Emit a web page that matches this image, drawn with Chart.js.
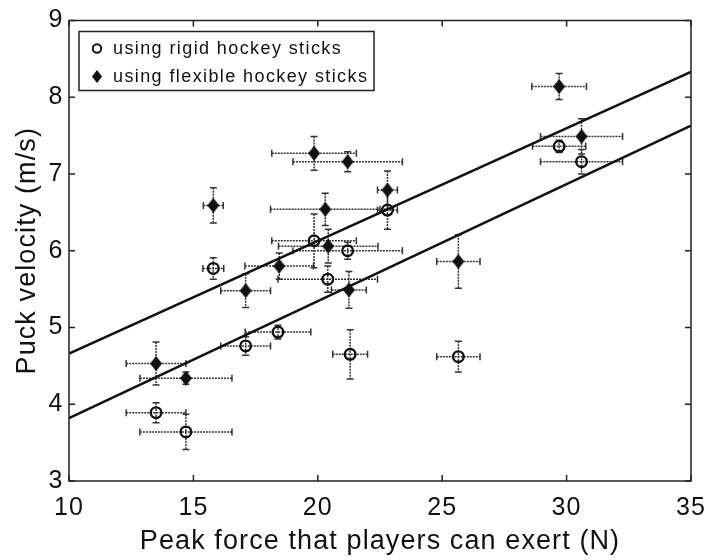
<!DOCTYPE html>
<html>
<head>
<meta charset="utf-8">
<script src="https://cdn.jsdelivr.net/npm/chart.js@4/dist/chart.umd.min.js"></script>
<style>
  html, body { margin: 0; padding: 0; background: #fff; }
</style>
</head>
<body>
<canvas id="chart" width="710" height="560"></canvas>
<script>
// values
const rigidForce    = [13.5, 14.7, 15.8, 17.1, 18.4, 19.85, 20.4, 21.2, 21.3, 22.8, 25.65, 29.7, 30.6];
const rigidVelocity = [3.89, 3.64, 5.77, 4.76, 4.94, 6.13, 5.63, 6.0, 4.65, 6.53, 4.62, 7.36, 7.16];
const rigidForceErr = [1.2, 1.85, 0.42, 1.0, 1.32, 1.7, 2.0, 2.2, 0.7, 0.4, 0.87, 1.07, 1.65];
const rigidVelErr   = [0.13, 0.23, 0.14, 0.12, 0.09, 0.35, 0.17, 0.11, 0.32, 0.25, 0.2, 0.08, 0.16];

const flexForce    = [13.5, 14.7, 15.8, 17.1, 18.45, 19.85, 20.3, 20.42, 21.2, 21.25, 22.8, 25.65, 29.7, 30.6];
const flexVelocity = [4.53, 4.34, 6.59, 5.48, 5.8, 7.27, 6.54, 6.06, 7.16, 5.49, 6.79, 5.86, 8.14, 7.49];
const flexForceErr = [1.2, 1.85, 0.4, 1.0, 1.38, 1.7, 2.2, 2.0, 2.2, 0.7, 0.4, 0.87, 1.1, 1.65];
const flexVelErr   = [0.28, 0.08, 0.23, 0.22, 0.17, 0.22, 0.21, 0.22, 0.13, 0.24, 0.25, 0.35, 0.17, 0.23];

// fitted lines, end points read at the axis limits
const fitForce    = [10, 35];
const fitRigid    = [3.82, 7.63];
const fitFlexible = [4.66, 8.33];

const legendLabels = ['using rigid hockey sticks', 'using flexible hockey sticks'];

const FONT = '"Liberation Sans", Arial, Helvetica, sans-serif';
const INK = '#111';

const toPoints = (xs, ys) => xs.map((x, i) => ({ x, y: ys[i] }));

function diamondImage(w, h) {
  const c = document.createElement('canvas');
  c.width = w; c.height = h;
  const g = c.getContext('2d');
  g.fillStyle = INK;
  g.beginPath();
  g.moveTo(w / 2, 0); g.lineTo(w, h / 2); g.lineTo(w / 2, h); g.lineTo(0, h / 2);
  g.closePath();
  g.fill();
  return c;
}

// the original lettering is set a little wider than Arial
const wideText = {
  id: 'wideText',
  beforeDraw(chart) {
    chart.ctx.letterSpacing = '1.1px';
  }
};

// dotted error bars with caps, drawn under the markers
const errorBars = {
  id: 'errorBars',
  beforeDatasetsDraw(chart) {
    const { ctx, scales: { x, y } } = chart;
    ctx.save();
    ctx.strokeStyle = '#333';
    ctx.lineWidth = 1.5;
    chart.data.datasets.forEach(ds => {
      if (!ds.errors) return;
      ds.data.forEach((p, i) => {
        const cx = x.getPixelForValue(p.x), cy = y.getPixelForValue(p.y);
        const xl = x.getPixelForValue(p.x - ds.errors.x[i]);
        const xr = x.getPixelForValue(p.x + ds.errors.x[i]);
        const yt = y.getPixelForValue(p.y + ds.errors.y[i]);
        const yb = y.getPixelForValue(p.y - ds.errors.y[i]);
        ctx.setLineDash([2, 1]);
        ctx.beginPath();
        ctx.moveTo(xl, cy); ctx.lineTo(xr, cy);
        ctx.moveTo(cx, yt); ctx.lineTo(cx, yb);
        ctx.stroke();
        ctx.setLineDash([]);
        ctx.beginPath();
        ctx.moveTo(xl, cy - 3.5); ctx.lineTo(xl, cy + 3.5);
        ctx.moveTo(xr, cy - 3.5); ctx.lineTo(xr, cy + 3.5);
        ctx.moveTo(cx - 3.5, yt); ctx.lineTo(cx + 3.5, yt);
        ctx.moveTo(cx - 3.5, yb); ctx.lineTo(cx + 3.5, yb);
        ctx.stroke();
      });
    });
    ctx.restore();
  }
};

// box frame with inward ticks on all four sides
const frameTicks = {
  id: 'frameTicks',
  afterDatasetsDraw(chart) {
    const { ctx, chartArea: a, scales: { x, y } } = chart;
    const len = 6;
    ctx.save();
    ctx.strokeStyle = '#222';
    ctx.lineWidth = 1.5;
    ctx.beginPath();
    x.ticks.forEach(t => {
      const px = x.getPixelForValue(t.value);
      ctx.moveTo(px, a.bottom); ctx.lineTo(px, a.bottom - len);
      ctx.moveTo(px, a.top); ctx.lineTo(px, a.top + len);
    });
    y.ticks.forEach(t => {
      const py = y.getPixelForValue(t.value);
      ctx.moveTo(a.left, py); ctx.lineTo(a.left + len, py);
      ctx.moveTo(a.right, py); ctx.lineTo(a.right - len, py);
    });
    ctx.stroke();
    ctx.strokeRect(a.left, a.top, a.right - a.left, a.bottom - a.top);
    ctx.restore();
  }
};

// legend box in the upper-left corner of the plot
const legendBox = {
  id: 'legendBox',
  afterDraw(chart) {
    const { ctx, chartArea: a } = chart;
    const x0 = a.left + 10, y0 = a.top + 11, w = 295, h = 59;
    ctx.save();
    ctx.fillStyle = '#fff';
    ctx.fillRect(x0, y0, w, h);
    ctx.strokeStyle = '#222';
    ctx.lineWidth = 1.5;
    ctx.strokeRect(x0, y0, w, h);
    ctx.font = '18px ' + FONT;
    ctx.letterSpacing = '1.4px';
    ctx.textBaseline = 'middle';
    legendLabels.forEach((label, i) => {
      const cy = y0 + 17 + i * 28;
      const mx = x0 + 18;
      if (i === 0) {
        ctx.strokeStyle = INK;
        ctx.lineWidth = 2;
        ctx.beginPath();
        ctx.arc(mx, cy, 4.2, 0, Math.PI * 2);
        ctx.stroke();
      } else {
        ctx.fillStyle = INK;
        ctx.beginPath();
        ctx.moveTo(mx, cy - 6.5); ctx.lineTo(mx + 5, cy); ctx.lineTo(mx, cy + 6.5); ctx.lineTo(mx - 5, cy);
        ctx.closePath();
        ctx.fill();
      }
      ctx.fillStyle = INK;
      ctx.fillText(label, x0 + 34, cy + 1);
    });
    ctx.restore();
  }
};

new Chart(document.getElementById('chart'), {
  type: 'scatter',
  data: {
    datasets: [
      {
        label: 'fit flexible',
        type: 'line',
        data: toPoints(fitForce, fitFlexible),
        borderColor: INK,
        borderWidth: 2.6,
        pointRadius: 0,
        fill: false,
        order: 0
      },
      {
        label: 'fit rigid',
        type: 'line',
        data: toPoints(fitForce, fitRigid),
        borderColor: INK,
        borderWidth: 2.6,
        pointRadius: 0,
        fill: false,
        order: 0
      },
      {
        label: legendLabels[0],
        data: toPoints(rigidForce, rigidVelocity),
        errors: { x: rigidForceErr, y: rigidVelErr },
        pointStyle: 'circle',
        pointRadius: 5.3,
        borderWidth: 2.4,
        borderColor: INK,
        backgroundColor: 'rgba(0,0,0,0)',
        order: 1
      },
      {
        label: legendLabels[1],
        data: toPoints(flexForce, flexVelocity),
        errors: { x: flexForceErr, y: flexVelErr },
        pointStyle: diamondImage(12, 15),
        pointRadius: 7,
        order: 1
      }
    ]
  },
  options: {
    responsive: false,
    animation: false,
    devicePixelRatio: 1,
    layout: { padding: { top: 20, right: 19, left: 0, bottom: 0 } },
    plugins: {
      legend: { display: false },
      tooltip: { enabled: false }
    },
    scales: {
      x: {
        type: 'linear',
        min: 10,
        max: 35,
        ticks: { stepSize: 5, color: INK, padding: 12, font: { family: FONT, size: 25 } },
        grid: { display: false, drawTicks: false },
        border: { display: false },
        title: {
          display: true,
          text: 'Peak force that players can exert (N)',
          color: INK,
          font: { family: FONT, size: 27 },
          padding: { top: 0, bottom: 2 }
        },
        afterFit: s => { s.height = 79; s.paddingLeft = 0; s.paddingRight = 0; }
      },
      y: {
        type: 'linear',
        min: 3,
        max: 9,
        ticks: { stepSize: 1, color: INK, padding: 5.5, font: { family: FONT, size: 25 } },
        grid: { display: false, drawTicks: false },
        border: { display: false },
        title: {
          display: true,
          text: 'Puck velocity (m/s)',
          color: INK,
          font: { family: FONT, size: 27 },
          padding: { top: 11, bottom: 0 }
        },
        afterFit: s => { s.width = 69; }
      }
    }
  },
  plugins: [wideText, errorBars, frameTicks, legendBox]
});
</script>
</body>
</html>
